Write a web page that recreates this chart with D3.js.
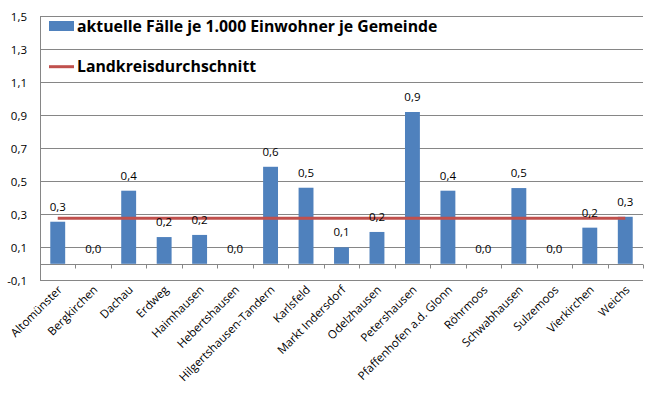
<!DOCTYPE html>
<html><head><meta charset="utf-8">
<script src="https://cdn.jsdelivr.net/npm/d3@7"></script>
<style>body{margin:0;background:#fff}svg{display:block}text{font-family:"Open Sans",sans-serif}</style>
</head><body>
<script>
const categories = ["Altomünster","Bergkirchen","Dachau","Erdweg","Haimhausen","Hebertshausen","Hilgertshausen-Tandern","Karlsfeld","Markt Indersdorf","Odelzhausen","Petershausen","Pfaffenhofen a.d. Glonn","Röhrmoos","Schwabhausen","Sulzemoos","Vierkirchen","Weichs"];
const faelle = [0.255,0,0.443,0.162,0.175,0,0.588,0.461,0.1,0.193,0.92,0.443,0,0.459,0,0.219,0.285];
const durchschnitt = 0.276;
const yTicks = [-0.1,0.1,0.3,0.5,0.7,0.9,1.1,1.3,1.5];
const yTickLabels = ["-0,1","0,1","0,3","0,5","0,7","0,9","1,1","1,3","1,5"];
const seriesNames = ["aktuelle Fälle je 1.000 Einwohner je Gemeinde","Landkreisdurchschnitt"];

const W=653,H=397;
const svg=d3.select("body").append("svg").attr("width",W).attr("height",H);
const y=d3.scaleLinear().domain([-0.1,1.5]).range([280.3,16.3]);
const pi=0.58;
const x=d3.scaleBand().domain(categories).range([40,643]).paddingInner(pi).paddingOuter(pi/2);
const step=x.step();
const grid="#868686";

// gridlines
svg.append("g").selectAll("line").data(yTicks).join("line")
  .attr("x1",40).attr("x2",643).attr("y1",d=>Math.round(y(d))+0.5).attr("y2",d=>Math.round(y(d))+0.5)
  .attr("stroke",grid).attr("stroke-width",1);
// y labels
svg.append("g").selectAll("text").data(yTicks).join("text")
  .attr("x",27).attr("y",d=>y(d)+4.5).attr("text-anchor","end").attr("font-size",11.5).attr("fill","#000")
  .text((d,i)=>yTickLabels[i]);
// y axis
svg.append("line").attr("x1",40.5).attr("x2",40.5).attr("y1",Math.round(y(1.5))).attr("y2",Math.round(y(-0.1))+1).attr("stroke",grid);
// x axis at 0
const y0=Math.round(y(0))+0.5;
svg.append("line").attr("x1",40).attr("x2",643).attr("y1",y0).attr("y2",y0).attr("stroke",grid);
const bounds=categories.map(c=>x(c)-step*pi/2).concat([x(categories[categories.length-1])+x.bandwidth()+step*pi/2]);
svg.append("g").selectAll("line").data(bounds).join("line")
  .attr("x1",d=>Math.round(d)+0.5).attr("x2",d=>Math.round(d)+0.5).attr("y1",y0).attr("y2",y0+4).attr("stroke",grid);

// bars
svg.append("g").selectAll("rect").data(faelle).join("rect")
  .attr("x",(d,i)=>x(categories[i])).attr("width",x.bandwidth())
  .attr("y",d=>y(d)).attr("height",d=>y(0)-y(d)).attr("fill","#4F81BD");
// line
svg.append("line").attr("x1",x(categories[0])+x.bandwidth()/2).attr("x2",x(categories[categories.length-1])+x.bandwidth()/2)
  .attr("y1",y(durchschnitt)).attr("y2",y(durchschnitt)).attr("stroke","#C0504D").attr("stroke-width",3);
// data labels
const fmt=v=>d3.format(".1f")(v).replace(".",",");
svg.append("g").selectAll("text").data(faelle).join("text")
  .attr("x",(d,i)=>x(categories[i])+x.bandwidth()/2).attr("y",d=>y(d)-11)
  .attr("text-anchor","middle").attr("font-size",11.5).attr("fill","#000").text(d=>fmt(d));
// x labels
svg.append("g").selectAll("text").data(categories).join("text")
  .attr("text-anchor","end").attr("font-size",11.5).attr("fill","#000")
  .attr("transform",c=>`translate(${x(c)+x.bandwidth()/2+5},${y0+26}) rotate(-45)`)
  .text(c=>c);
// legend
const lg=svg.append("g");
lg.append("rect").attr("x",49).attr("y",21).attr("width",25).attr("height",10).attr("fill","#4F81BD");
lg.append("text").attr("x",77).attr("y",31.5).attr("font-size",15.8).attr("font-weight","bold").attr("fill","#000").text(seriesNames[0]);
lg.append("line").attr("x1",49).attr("x2",74).attr("y1",66.7).attr("y2",66.7).attr("stroke","#C0504D").attr("stroke-width",3);
lg.append("text").attr("x",77).attr("y",72).attr("font-size",15.8).attr("font-weight","bold").attr("fill","#000").text(seriesNames[1]);
</script>
</body></html>
